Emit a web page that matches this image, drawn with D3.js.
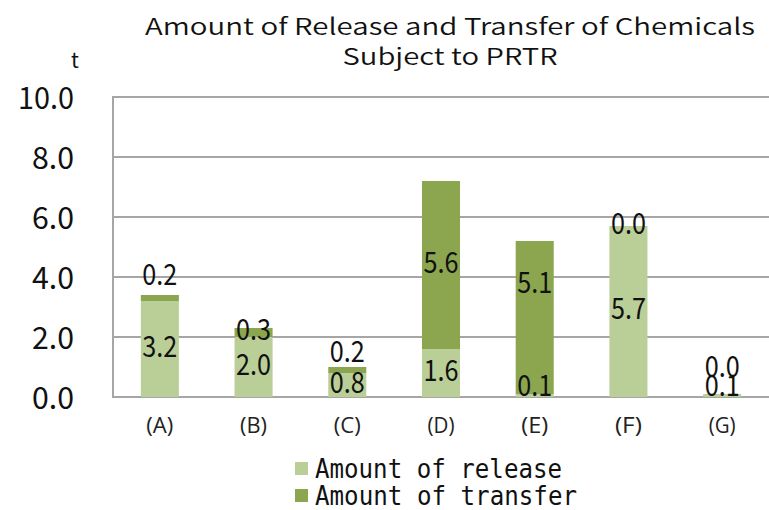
<!DOCTYPE html>
<html><head><meta charset="utf-8">
<script src="https://cdn.jsdelivr.net/npm/d3@7"></script>
<style>body{margin:0;background:#fff}</style>
</head><body>
<svg id="c" width="769" height="510"></svg>
<script>
const categories = ["(A)","(B)","(C)","(D)","(E)","(F)","(G)"];
const releaseValues = [3.2, 2.0, 0.8, 1.6, 0.1, 5.7, 0.1];
const transferValues = [0.2, 0.3, 0.2, 5.6, 5.1, 0.0, 0.0];
const seriesNames = ["Amount of release", "Amount of transfer"];
const yTicks = [0, 2, 4, 6, 8, 10];
const titleLines = ["Amount of Release and Transfer of Chemicals", "Subject to PRTR"];
const unitLabel = "t";
// label nudges (px) for manually placed data labels in the original
const releaseNudge = [0, 0, 0, 0, -7, 0, -7];
const transferNudge = [-21, 0, -16, 0, -32, 0, -25];

const colors = ["#bacf97", "#8ba64f"];
const svg = d3.select("#c");
const x = d3.scaleBand().domain(categories).range([113, 769]).paddingInner(0.594).paddingOuter(0.297);
const y = d3.scaleLinear().domain([0, 10]).range([397, 97]);
const numFont = "'Noto Sans CJK JP','DejaVu Sans'";

// gridlines
svg.append("g").selectAll("line").data(yTicks).join("line")
  .attr("x1", 112).attr("x2", 769)
  .attr("y1", d => y(d)).attr("y2", d => y(d))
  .attr("stroke", "#a6a6a6").attr("stroke-width", 2);
svg.append("line").attr("x1", 113).attr("x2", 113).attr("y1", y(10)).attr("y2", y(0))
  .attr("stroke", "#a6a6a6").attr("stroke-width", 2);

// y tick labels
svg.append("g").selectAll("text").data(yTicks).join("text")
  .attr("x", 74).attr("y", d => y(d) + 4)
  .attr("text-anchor", "end").attr("dominant-baseline", "middle")
  .attr("font-family", numFont).attr("font-size", 30).attr("fill", "#111")
  .attr("textLength", d => d >= 10 ? 56 : 42).attr("lengthAdjust", "spacingAndGlyphs")
  .text(d => d.toFixed(1));

svg.append("text").attr("x", 75).attr("y", 68).attr("text-anchor", "middle")
  .attr("font-family", "'Noto Sans CJK JP'").attr("font-size", 21).attr("fill", "#111").text(unitLabel);

// bars
const stacked = d3.stack().keys([0, 1]).value((d, k) => k === 0 ? d.r : d.t)(
  categories.map((c, i) => ({c, r: releaseValues[i], t: transferValues[i]})));
stacked.forEach((layer, k) => {
  svg.append("g").selectAll("rect").data(layer).join("rect")
    .attr("x", d => x(d.data.c)).attr("width", x.bandwidth())
    .attr("y", d => y(d[1])).attr("height", d => y(d[0]) - y(d[1]))
    .attr("fill", colors[k]);
});

// data labels
stacked.forEach((layer, k) => {
  const nudge = k === 0 ? releaseNudge : transferNudge;
  svg.append("g").selectAll("text").data(layer).join("text")
    .attr("x", d => x(d.data.c) + x.bandwidth() / 2)
    .attr("y", (d, i) => (y(d[0]) + y(d[1])) / 2 + nudge[i])
    .attr("text-anchor", "middle").attr("dominant-baseline", "middle")
    .attr("font-family", numFont).attr("font-size", 29).attr("fill", "#111")
    .attr("textLength", 35).attr("lengthAdjust", "spacingAndGlyphs")
    .text(d => (d[1] - d[0]).toFixed(1));
});

// category labels
svg.append("g").selectAll("text").data(categories).join("text")
  .attr("x", d => x(d) + x.bandwidth() / 2).attr("y", 433)
  .attr("text-anchor", "middle")
  .attr("font-family", "'Open Sans','Noto Sans'").attr("font-size", 21).attr("fill", "#222")
  .attr("textLength", 27).attr("lengthAdjust", "spacingAndGlyphs")
  .text(d => d);

// title
svg.append("g").selectAll("text").data(titleLines).join("text")
  .attr("x", 450).attr("y", (d, i) => 35 + i * 30)
  .attr("text-anchor", "middle")
  .attr("font-family", "'Noto Sans CJK JP','Open Sans'").attr("font-weight", 350).attr("font-size", 23).attr("fill", "#111")
  .attr("textLength", (d, i) => i === 0 ? 610 : 215).attr("lengthAdjust", "spacingAndGlyphs")
  .text(d => d);

// legend
const lg = svg.append("g").selectAll("g").data(seriesNames).join("g")
  .attr("transform", (d, i) => `translate(295,${462 + i * 27})`);
lg.append("rect").attr("width", 13).attr("height", 13).attr("fill", (d, i) => colors[i]);
lg.append("text").attr("x", 20).attr("y", 16)
  .attr("font-family", "'DejaVu Sans Mono','Noto Sans CJK JP'").attr("font-size", 26).attr("fill", "#111")
  .attr("textLength", (d, i) => i === 0 ? 247 : 262).attr("lengthAdjust", "spacingAndGlyphs")
  .text(d => d);
</script>
</body></html>
